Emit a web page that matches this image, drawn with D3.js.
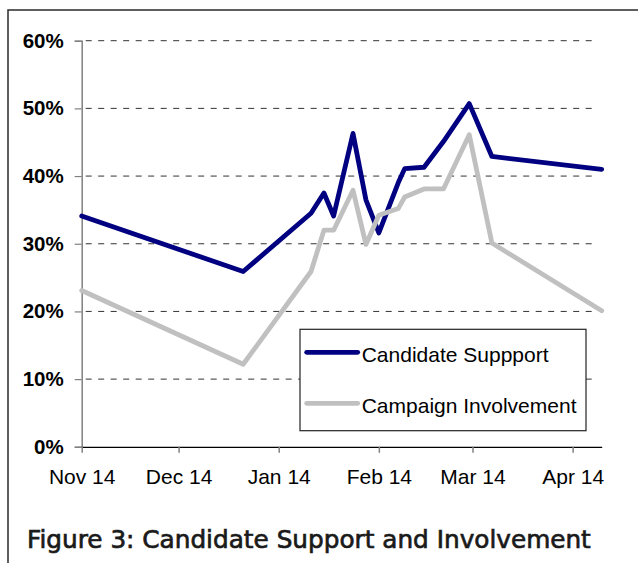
<!DOCTYPE html>
<html>
<head>
<meta charset="utf-8">
<script src="https://cdn.jsdelivr.net/npm/d3@7"></script>
<style>
  html, body { margin: 0; padding: 0; background: #fff; }
  svg { display: block; }
</style>
</head>
<body>
<svg id="chart" width="638" height="563"></svg>
<script>
// Survey dates (Nov 2007 – Apr 2008)
const surveyDates = [
  "2007-11-14", "2008-01-03", "2008-01-24", "2008-01-28", "2008-01-31",
  "2008-02-06", "2008-02-10", "2008-02-14", "2008-02-20", "2008-02-22",
  "2008-02-28", "2008-03-05", "2008-03-13", "2008-03-20", "2008-04-23"
];
// Percent values per survey
const candidateSupport = [34.1, 25.9, 34.5, 37.5, 34.1, 46.3, 36.5, 31.6, 39.0, 41.1, 41.3, 45.1, 50.7, 42.9, 41.0];
const campaignInvolvement = [23.1, 12.2, 25.9, 32.0, 32.0, 37.9, 29.9, 34.2, 35.2, 36.9, 38.1, 38.1, 46.1, 30.1, 20.1];

const seriesNames = ["Candidate Suppport", "Campaign Involvement"];
const seriesColors = ["#000080", "#c0c0c0"];
const yTickValues = [0, 10, 20, 30, 40, 50, 60];
const xTickDates = ["2007-11-14", "2007-12-14", "2008-01-14", "2008-02-14", "2008-03-14", "2008-04-14"];
const domainStart = "2007-11-14";
const domainEnd = "2008-04-23";
const titleText = "Figure 3: Candidate Support and Involvement";

const parse = d3.utcParse("%Y-%m-%d");
const svg = d3.select("#chart");

const plot = { left: 81.7, right: 601.7, top: 40.7, bottom: 446.8 };

const x = d3.scaleUtc()
  .domain([parse(domainStart), parse(domainEnd)])
  .range([plot.left, plot.right]);
const y = d3.scaleLinear()
  .domain([0, 60])
  .range([plot.bottom, plot.top]);

// Outer frame (top and left edges)
svg.append("path")
  .attr("d", "M8,563 L8,10 L638,10")
  .attr("fill", "none")
  .attr("stroke", "#2a2a2a")
  .attr("stroke-width", 1.5);

// Dashed gridlines
svg.append("g")
  .selectAll("line")
  .data(yTickValues.filter(v => v > 0))
  .join("line")
  .attr("x1", plot.left)
  .attr("x2", 597)
  .attr("y1", d => y(d))
  .attr("y2", d => y(d))
  .attr("stroke", "#333")
  .attr("stroke-width", 1)
  .attr("stroke-dasharray", "6,6.5")
  .attr("stroke-dashoffset", -4);

// Y axis
const yAxis = svg.append("g")
  .attr("transform", `translate(${plot.left},0)`)
  .call(d3.axisLeft(y)
    .tickValues(yTickValues)
    .tickSize(7)
    .tickPadding(11)
    .tickFormat(d => d + "%"));
yAxis.select(".domain").attr("stroke", "#808080").attr("stroke-width", 1.5);
yAxis.selectAll(".tick line").attr("stroke", "#808080").attr("stroke-width", 1.2);
yAxis.selectAll(".tick text")
  .attr("fill", "#000")
  .attr("font-family", "Liberation Sans, Arial, sans-serif")
  .attr("font-weight", "bold")
  .attr("font-size", 20.5);

// X axis
const xAxis = svg.append("g")
  .attr("transform", `translate(0,${plot.bottom})`)
  .call(d3.axisBottom(x)
    .tickValues(xTickDates.map(parse))
    .tickSize(6)
    .tickSizeOuter(0)
    .tickPadding(16.5)
    .tickFormat(d3.utcFormat("%b %d")));
xAxis.select(".domain").attr("stroke", "#000").attr("stroke-width", 1.3);
xAxis.selectAll(".tick line").attr("stroke", "#808080").attr("stroke-width", 1.5);
xAxis.selectAll(".tick text")
  .attr("fill", "#000")
  .attr("font-family", "Liberation Sans, Arial, sans-serif")
  .attr("font-size", 21);

// Series lines
const series = [candidateSupport, campaignInvolvement];
const line = d3.line()
  .x((d, i) => x(parse(surveyDates[i])))
  .y(d => y(d));

svg.append("g")
  .selectAll("path")
  .data(series)
  .join("path")
  .attr("d", d => line(d))
  .attr("fill", "none")
  .attr("stroke", (d, i) => seriesColors[i])
  .attr("stroke-width", 4.8)
  .attr("stroke-linejoin", "round")
  .attr("stroke-linecap", "round");

// Legend
const legend = svg.append("g").attr("transform", "translate(300,329.3)");
legend.append("rect")
  .attr("width", 286)
  .attr("height", 101.4)
  .attr("fill", "#fff")
  .attr("stroke", "#222")
  .attr("stroke-width", 1.2);
const items = legend.selectAll("g.item")
  .data(seriesNames)
  .join("g")
  .attr("class", "item")
  .attr("transform", (d, i) => `translate(0,${23 + i * 51})`);
items.append("line")
  .attr("x1", 6.7).attr("x2", 57.7)
  .attr("stroke", (d, i) => seriesColors[i])
  .attr("stroke-width", 4.8)
  .attr("stroke-linecap", "round");
items.append("text")
  .attr("x", 61.7)
  .attr("y", 10)
  .attr("font-family", "Liberation Sans, Arial, sans-serif")
  .attr("font-size", 21)
  .attr("fill", "#000")
  .text(d => d);

// Caption below the chart
const title = svg.append("text")
  .attr("x", 27)
  .attr("y", 548.3)
  .attr("font-family", "DejaVu Sans, sans-serif")
  .attr("font-size", 22)
  .attr("fill", "#1a1a1a")
  .attr("stroke", "#1a1a1a")
  .attr("stroke-width", 0.7)
  .text(titleText);
const w = title.node().getComputedTextLength();
title.attr("font-size", 22 * 564 / w);
</script>
</body>
</html>
